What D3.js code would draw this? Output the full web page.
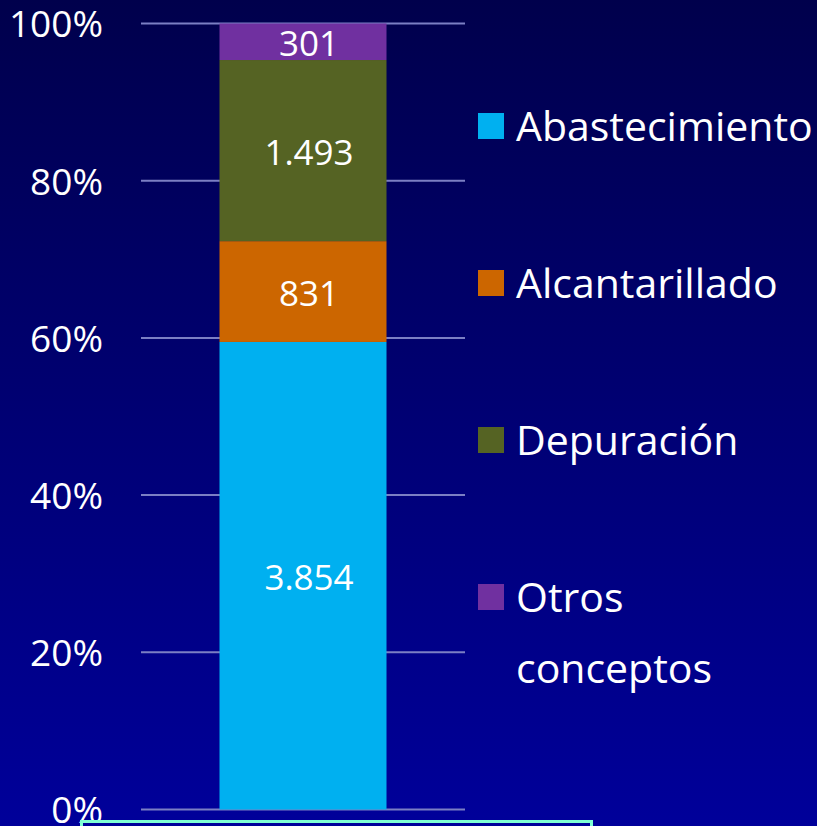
<!DOCTYPE html>
<html><head><meta charset="utf-8">
<script src="https://cdn.jsdelivr.net/npm/d3@7"></script>
<style>html,body{margin:0;padding:0;overflow:hidden;background:#000050}</style>
</head><body>
<script>
const categories = ["Abastecimiento", "Alcantarillado", "Depuración", "Otros conceptos"];
const values = [3854, 831, 1493, 301];
const valueLabels = ["3.854", "831", "1.493", "301"];
const colors = ["#00b0f0", "#cc6600", "#556323", "#7030a0"];
const tickValues = [0, 0.2, 0.4, 0.6, 0.8, 1];
const tickLabels = ["0%", "20%", "40%", "60%", "80%", "100%"];

const W = 817, H = 826;
const svg = d3.select("body").append("svg").attr("width", W).attr("height", H);
const defs = svg.append("defs");
const grad = defs.append("linearGradient").attr("id","bg").attr("x1",0).attr("y1",0).attr("x2",0).attr("y2",1);
grad.append("stop").attr("offset","0%").attr("stop-color","#00004c");
grad.append("stop").attr("offset","100%").attr("stop-color","#00009a");
svg.append("rect").attr("width",W).attr("height",H).attr("fill","url(#bg)");

const font = "'Open Sans', sans-serif";
const y = d3.scaleLinear().domain([0,1]).range([809.5, 23.5]);
const x = d3.scaleBand().domain(["bar"]).range([141, 465]).paddingInner(0).paddingOuter(0.47);

// gridlines
svg.append("g").selectAll("line").data(tickValues).join("line")
  .attr("x1",141).attr("x2",465).attr("y1",d=>y(d)).attr("y2",d=>y(d))
  .attr("stroke","#7b7fc4").attr("stroke-width",2);

// axis labels via d3 axis
const axis = d3.axisLeft(y).tickValues(tickValues).tickFormat((d,i)=>tickLabels[i]).tickSize(0).tickPadding(0);
const ag = svg.append("g").attr("transform","translate(103,0)").call(axis);
ag.select(".domain").remove();
ag.selectAll("text").attr("fill","#fff").attr("font-family",font).attr("font-size",37).attr("dy","0.36em");

// stacked bar
const total = d3.sum(values);
let cum = 0;
const segs = values.map((v,i)=>{ const s={i, y0:cum/total, y1:(cum+v)/total, v}; cum+=v; return s; });
const bw = x.bandwidth();
svg.append("g").selectAll("rect").data(segs).join("rect")
  .attr("x", x("bar")).attr("width", bw)
  .attr("y", d=>y(d.y1)).attr("height", d=>y(d.y0)-y(d.y1))
  .attr("fill", d=>colors[d.i]);
svg.append("g").selectAll("text").data(segs).join("text")
  .attr("x", x("bar")+bw/2 + 6).attr("y", d=>(y(d.y0)+y(d.y1))/2 + 2)
  .attr("text-anchor","middle").attr("dy","0.36em")
  .attr("fill","#fff").attr("font-family",font).attr("font-size",35)
  .text(d=>valueLabels[d.i]);

// legend
const lg = svg.append("g");
const legendY = [126, 283, 440, 597];
categories.forEach((c,i)=>{
  lg.append("rect").attr("x",478).attr("y",legendY[i]-13).attr("width",26).attr("height",26).attr("fill",colors[i]);
  const words = i===3 ? ["Otros","conceptos"] : [c];
  words.forEach((w,j)=>{
    lg.append("text").attr("x",516).attr("y",legendY[i]+j*71).attr("dy","0.36em")
      .attr("fill","#fff").attr("font-family",font).attr("font-size",41).text(w);
  });
});

// bottom box border
svg.append("rect").attr("x",81.5).attr("y",821.5).attr("width",510).attr("height",30)
  .attr("fill","none").attr("stroke","#7fffd4").attr("stroke-width",3);
</script>
</body></html>
